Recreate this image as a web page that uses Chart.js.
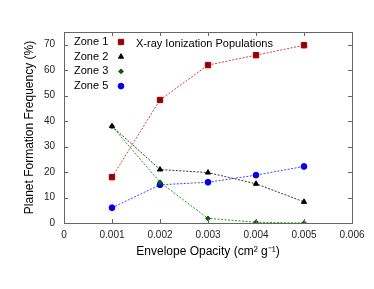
<!DOCTYPE html>
<html lang="en">
  <head>
    <meta charset="UTF-8" />
    <title>Planet Formation Frequency</title>
    <script src="https://cdn.jsdelivr.net/npm/chart.js"></script>
    <style>
      html, body { margin: 0; padding: 0; background: #fff; }
      #wrap { width: 374px; height: 289px; }
    </style>
  </head>
  <body>
    <div id="wrap"><canvas id="chart" width="374" height="289"></canvas></div>

    <script>
      const opacity = [0.001, 0.002, 0.003, 0.004, 0.005];
      const zone1 = [18, 48.3, 62, 65.9, 69.8];
      const zone2 = [38, 21, 19.8, 15.4, 8.3];
      const zone3 = [38, 16, 1.8, 0.3, 0];
      const zone5 = [6, 15, 16, 18.8, 22.2];
      const xTicks = [0, 0.001, 0.002, 0.003, 0.004, 0.005, 0.006];
      const yTicks = [0, 10, 20, 30, 40, 50, 60, 70];

      const font = "'Liberation Sans', Arial, sans-serif";

      function pts(ys) {
        return opacity.map((x, i) => ({ x: x, y: ys[i] }));
      }

      // gnuplot-like frame with inward ticks on all four sides
      const framePlugin = {
        id: "frame",
        afterDraw(chart) {
          const { ctx, chartArea: a, scales } = chart;
          ctx.save();
          ctx.strokeStyle = "#666";
          ctx.lineWidth = 1;
          ctx.beginPath();
          xTicks.forEach((v) => {
            const px = Math.round(scales.x.getPixelForValue(v)) + 0.5;
            ctx.moveTo(px, a.bottom); ctx.lineTo(px, a.bottom - 4);
            ctx.moveTo(px, a.top); ctx.lineTo(px, a.top + 4);
          });
          yTicks.forEach((v) => {
            const py = Math.round(scales.y.getPixelForValue(v)) + 0.5;
            ctx.moveTo(a.left, py); ctx.lineTo(a.left + 4, py);
            ctx.moveTo(a.right, py); ctx.lineTo(a.right - 4, py);
          });
          ctx.stroke();
          ctx.strokeRect(Math.round(a.left) + 0.5, Math.round(a.top) + 0.5,
            Math.round(a.right - a.left), Math.round(a.bottom - a.top));
          ctx.restore();
        },
      };

      // legend inside the plot: text, then marker to its right
      const keyPlugin = {
        id: "key",
        afterDraw(chart) {
          const { ctx, chartArea: a } = chart;
          ctx.save();
          ctx.font = "11px " + font;
          ctx.textBaseline = "middle";
          chart.data.datasets.forEach((ds, i) => {
            const y = a.top + 10 + i * 14.7;
            ctx.fillStyle = "#000";
            ctx.fillText(ds.label, a.left + 10, y);
            ctx.fillStyle = ds.pointBackgroundColor;
            ctx.strokeStyle = ds.pointBorderColor;
            ctx.lineWidth = 1;
            Chart.helpers.drawPoint(ctx, {
              pointStyle: ds.pointStyle,
              radius: ds.pointRadius,
              borderWidth: 1,
              rotation: 0,
            }, a.left + 57, y);
          });
          ctx.fillStyle = "#000";
          ctx.fillText("X-ray Ionization Populations", a.left + 72, a.top + 12);
          ctx.restore();
        },
      };

      function series(label, ys, marker, line, style, r) {
        return {
          label: label,
          data: pts(ys),
          borderColor: line,
          backgroundColor: marker,
          pointBorderColor: marker,
          pointBackgroundColor: marker,
          pointStyle: style,
          pointRadius: r,
          pointBorderWidth: 1,
          borderWidth: 1,
          borderDash: [2, 1.5],
          tension: 0,
          fill: false,
        };
      }

      Chart.defaults.font.family = font;
      Chart.defaults.color = "#000";

      new Chart(document.getElementById("chart"), {
        type: "scatter",
        data: {
          datasets: [
            series("Zone 1", zone1, "#990000", "#cc4444", "rect", 3.8),
            series("Zone 2", zone2, "#000000", "#333333", "triangle", 3),
            series("Zone 3", zone3, "#006400", "#229922", "rectRot", 2.4),
            series("Zone 5", zone5, "#0000ee", "#4444ff", "circle", 2.9),
          ],
        },
        options: {
          responsive: false,
          animation: false,
          showLine: true,
          layout: { padding: { top: 32, right: 22, bottom: 30, left: 20 } },
          plugins: {
            legend: { display: false },
            tooltip: { enabled: false },
          },
          scales: {
            x: {
              type: "linear",
              min: 0,
              max: 0.006,
              afterFit(s) { s.height = 36; },
              afterBuildTicks(s) { s.ticks = xTicks.map((v) => ({ value: v })); },
              grid: { display: false, drawTicks: false },
              border: { display: false },
              ticks: {
                padding: 6,
                font: { size: 10 },
                color: "#222",
                callback: (v) => (v === 0 ? "0" : v.toFixed(3)),
              },
              title: {
                display: true,
                text: "Envelope Opacity (cm² g⁻¹)",
                font: { size: 12 },
                padding: { top: 4, bottom: 0 },
              },
            },
            y: {
              min: 0,
              max: 75,
              afterFit(s) { s.width = 44; },
              afterBuildTicks(s) { s.ticks = yTicks.map((v) => ({ value: v })); },
              grid: { display: false, drawTicks: false },
              border: { display: false },
              ticks: { padding: 9, font: { size: 10 }, color: "#222" },
              title: {
                display: true,
                text: "Planet Formation Frequency (%)",
                font: { size: 12 },
                padding: { top: 2, bottom: 2 },
              },
            },
          },
        },
        plugins: [framePlugin, keyPlugin],
      });
    </script>
  </body>
</html>
